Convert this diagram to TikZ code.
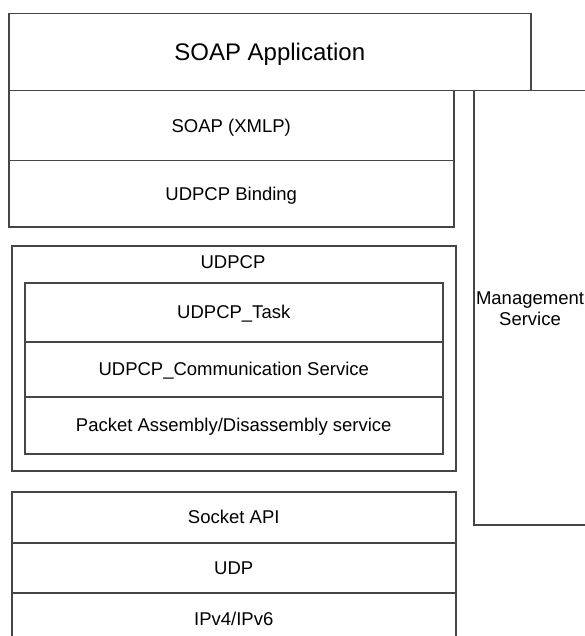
\documentclass[tikz,border=0pt]{standalone}
\usepackage{fontspec}
\setmainfont{Liberation Sans}
\begin{document}
\begin{tikzpicture}[x=1pt,y=-1pt,
  linecol/.style={draw={rgb,255:red,70;green,70;blue,70}, line width=1.5pt},
  layer/.style={linecol, rectangle, inner sep=0pt, anchor=north west,
    font=\fontsize{18.5}{21.5}\selectfont, text height=13.2pt, text depth=0pt,
    align=center},
  biglayer/.style={layer, font=\fontsize{24}{28}\selectfont, text height=17.2pt},
  tag/.style={inner sep=0pt, font=\fontsize{18.5}{21.5}\selectfont,
    text height=13.2pt, text depth=0pt, align=center}]
  % page frame
  \fill[white] (0,0) rectangle (584,636);
  \useasboundingbox (0,0) rectangle (584,636);

  % SOAP stack
  \node[biglayer, minimum width=522pt, minimum height=77pt] (app) at (8,13) {SOAP Application};
  \node[layer, minimum width=445pt, minimum height=70pt] (xmlp) at (8,90) {SOAP (XMLP)};
  \node[layer, minimum width=445pt, minimum height=66pt] (binding) at (8,160) {UDPCP Binding};

  % management column (runs off the right edge)
  \node[layer, minimum width=114pt, minimum height=434pt] (mgmt) at (473,90) {};
  \node[tag, text depth=4pt, anchor=center] (mgmtlabel) at (530,321) {Management\\Service};

  % UDPCP block
  \node[layer, minimum width=444pt, minimum height=225pt] (udpcp) at (11,245) {};
  \node[tag, anchor=center] (udpcplabel) at (233,262) {UDPCP};
  \node[layer, minimum width=418pt, minimum height=59pt] (task) at (24,282) {UDPCP\_Task};
  \node[layer, minimum width=418pt, minimum height=55pt] (comm) at (24,341) {UDPCP\_Communication Service};
  \node[layer, minimum width=418pt, minimum height=57pt] (pad) at (24,396) {Packet Assembly/Disassembly service};

  % transport stack (runs off the bottom edge)
  \node[layer, minimum width=444pt, minimum height=51pt] (socket) at (11,491) {Socket API};
  \node[layer, minimum width=444pt, minimum height=50pt] (udp) at (11,542) {UDP};
  \node[layer, minimum width=444pt, minimum height=52pt] (ip) at (11,592) {IPv4/IPv6};
\end{tikzpicture}
\end{document}
